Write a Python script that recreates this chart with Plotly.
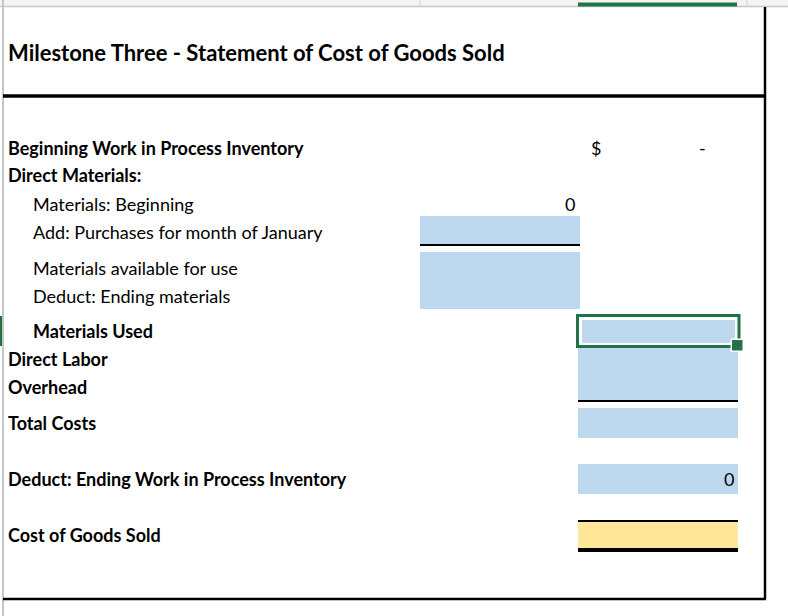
import plotly.graph_objects as go

# ---------------- data ----------------
title_text = "Milestone Three - Statement of Cost of Goods Sold"

row_labels = [
    "Beginning Work in Process Inventory",
    "Direct Materials:",
    "Materials: Beginning",
    "Add: Purchases for month of January",
    "Materials available for use",
    "Deduct: Ending materials",
    "Materials Used",
    "Direct Labor",
    "Overhead",
    "Total Costs",
    "Deduct: Ending Work in Process Inventory",
    "Cost of Goods Sold",
]
row_bold = [True, True, False, False, False, False, True, True, True, True, True, True]
row_indent = [False, False, True, True, True, True, True, False, False, False, False, False]

# values shown in the cells (column C = sub amounts, column D = totals)
col_c_values = ["", "", "0", "", "", "", "", "", "", "", "", ""]
col_d_values = ["-", "", "", "", "", "", "", "", "", "", "0", ""]
currency_row = 0  # row showing the "$" sign

# ---------------- layout constants ----------------
W, H = 788, 616
row_y = [148, 175, 204, 232, 268, 296, 331, 359, 387, 423, 479, 535]
x_label, x_indent = 6, 31
colC = (420, 580)
colD = (578, 738)
blue = "#bdd7ee"
yellow = "#ffe699"
green = "#217346"
FONT = "Lato"
FS = 18

fig = go.Figure()
fig.add_trace(go.Scatter(x=[0, W], y=[0, H], mode="markers",
                         marker=dict(opacity=0), hoverinfo="skip", showlegend=False))

shapes = []
def rect(x0, y0, x1, y1, color, line=None, layer="below"):
    shapes.append(dict(type="rect", xref="x", yref="y", x0=x0, y0=y0, x1=x1, y1=y1,
                       fillcolor=color, line=line or dict(width=0), layer=layer))
def hline(x0, x1, y, w, color="black"):
    shapes.append(dict(type="line", xref="x", yref="y", x0=x0, x1=x1, y0=y, y1=y,
                       line=dict(color=color, width=w)))
def vline(x, y0, y1, w, color="black"):
    shapes.append(dict(type="line", xref="x", yref="y", x0=x, x1=x, y0=y0, y1=y1,
                       line=dict(color=color, width=w)))

# spreadsheet header strip and gridlines
rect(0, 0, W, 6, "#f3f3f3")
hline(0, W, 6.5, 1.5, "#c6c6c6")
vline(3, 0, H, 2, "#c6c6c6")
vline(420, 0, 6, 1, "#d4d4d4")
vline(747, 0, 6, 1, "#d4d4d4")
hline(578, 737, 4.5, 4, green)

# blue input cells, column C
rect(colC[0], 216, colC[1], 244, blue)
hline(colC[0], colC[1], 245, 2)
rect(colC[0], 252, colC[1], 309, blue)

# column D cells
rect(colD[0], 348, colD[1], 400, blue)
hline(colD[0], colD[1], 401, 2)
rect(colD[0], 408, colD[1], 438, blue)
rect(colD[0], 464, colD[1], 494, blue)
hline(colD[0], colD[1], 521, 2)
rect(colD[0], 522, colD[1], 548, yellow)
hline(colD[0], colD[1], 550, 4)

# selected cell (Materials Used) with green border
rect(582, 320, 735, 343, blue)
shapes.append(dict(type="rect", xref="x", yref="y", x0=577.5, y0=315.5, x1=739, y1=346.5,
                   line=dict(color=green, width=3), fillcolor="rgba(0,0,0,0)"))
rect(730.5, 338.5, 744, 352, "white", layer="above")
rect(732, 340, 742.5, 350.5, green, layer="above")
rect(0, 316, 3, 346, green)

# frame lines
hline(3, 766, 96, 3.5)
vline(765, 7, 599, 2.5)
hline(3, 766, 599, 2.5)

annotations = []
annotations.append(dict(x=x_label, y=52, xref="x", yref="y", text="<b>" + title_text + "</b>",
                        showarrow=False, xanchor="left", yanchor="middle",
                        font=dict(family=FONT, size=22, color="black")))

for lab, b, ind, yv in zip(row_labels, row_bold, row_indent, row_y):
    annotations.append(dict(x=x_indent if ind else x_label, y=yv, xref="x", yref="y",
                            text=("<b>%s</b>" % lab) if b else lab, showarrow=False,
                            xanchor="left", yanchor="middle",
                            font=dict(family=FONT, size=FS, color="black")))

for v, yv in zip(col_c_values, row_y):
    if v:
        annotations.append(dict(x=colC[1] - 3, y=yv, xref="x", yref="y", text=v,
                                showarrow=False, xanchor="right", yanchor="middle",
                                font=dict(family=FONT, size=FS, color="black")))
for i, (v, yv) in enumerate(zip(col_d_values, row_y)):
    if v:
        annotations.append(dict(x=colD[1] - 2 if v != "-" else 708, y=yv, xref="x", yref="y",
                                text=v, showarrow=False, xanchor="right", yanchor="middle",
                                font=dict(family=FONT, size=FS, color="black")))
    if i == currency_row:
        annotations.append(dict(x=596, y=yv, xref="x", yref="y", text="$",
                                showarrow=False, xanchor="center", yanchor="middle",
                                font=dict(family=FONT, size=FS, color="black")))

fig.update_layout(
    width=W, height=H, margin=dict(l=0, r=0, t=0, b=0),
    paper_bgcolor="white", plot_bgcolor="white",
    xaxis=dict(range=[0, W], visible=False, fixedrange=True),
    yaxis=dict(range=[H, 0], visible=False, fixedrange=True),
    shapes=shapes, annotations=annotations, showlegend=False,
)
fig.write_html("out.html", config={"displayModeBar": False},
               post_script="document.body.style.margin='0';document.body.style.overflow='hidden';")
